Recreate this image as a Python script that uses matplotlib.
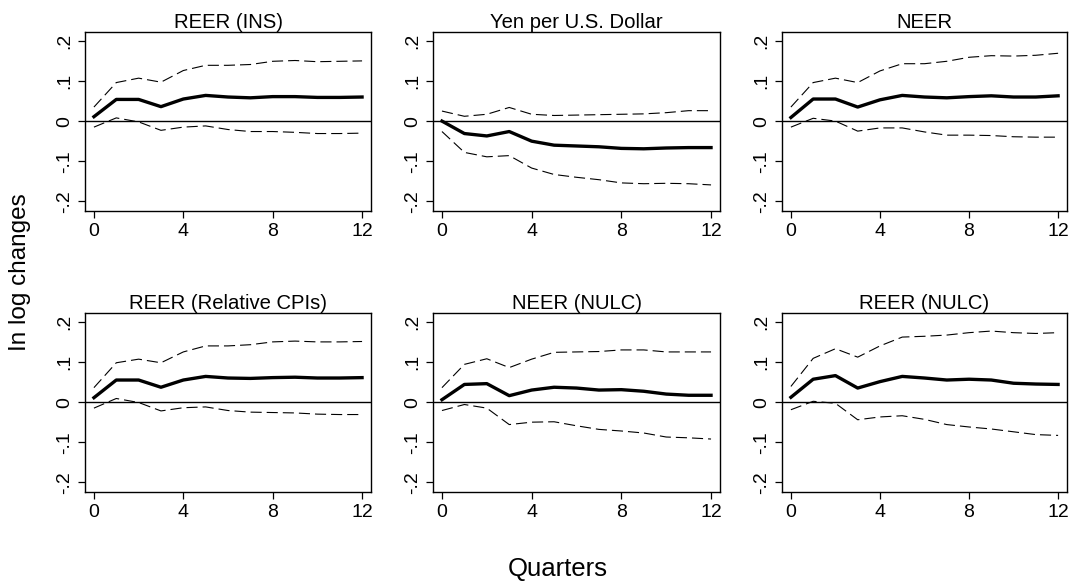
import matplotlib
matplotlib.use("Agg")
import matplotlib.pyplot as plt
import numpy as np

plt.rcParams['font.family'] = ['Liberation Sans', 'DejaVu Sans']

quarters = list(range(13))

titles = ["REER (INS)", "Yen per U.S. Dollar", "NEER",
          "REER (Relative CPIs)", "NEER (NULC)", "REER (NULC)"]

# Impulse responses (point estimate) and confidence bands, by panel
reer_ins = [0.011, 0.054, 0.054, 0.036, 0.055, 0.064, 0.060, 0.058, 0.061, 0.061, 0.059, 0.059, 0.060]
reer_ins_hi = [0.035, 0.096, 0.107, 0.097, 0.126, 0.139, 0.139, 0.141, 0.149, 0.151, 0.148, 0.149, 0.150]
reer_ins_lo = [-0.015, 0.008, -0.002, -0.023, -0.015, -0.012, -0.021, -0.026, -0.026, -0.028, -0.031, -0.031, -0.030]

yen = [0.0, -0.031, -0.037, -0.026, -0.050, -0.060, -0.062, -0.064, -0.068, -0.069, -0.067, -0.066, -0.066]
yen_hi = [0.025, 0.012, 0.017, 0.034, 0.017, 0.014, 0.015, 0.016, 0.017, 0.018, 0.021, 0.026, 0.026]
yen_lo = [-0.026, -0.078, -0.089, -0.086, -0.117, -0.133, -0.140, -0.146, -0.154, -0.156, -0.155, -0.156, -0.159]

neer = [0.009, 0.055, 0.055, 0.035, 0.053, 0.064, 0.060, 0.058, 0.061, 0.063, 0.060, 0.060, 0.063]
neer_hi = [0.035, 0.096, 0.107, 0.096, 0.125, 0.143, 0.143, 0.149, 0.159, 0.163, 0.162, 0.164, 0.169]
neer_lo = [-0.015, 0.007, 0.0, -0.025, -0.017, -0.017, -0.027, -0.035, -0.035, -0.036, -0.039, -0.040, -0.040]

reer_cpi = [0.011, 0.055, 0.055, 0.037, 0.055, 0.064, 0.060, 0.059, 0.061, 0.062, 0.060, 0.060, 0.061]
reer_cpi_hi = [0.036, 0.098, 0.107, 0.098, 0.125, 0.140, 0.140, 0.143, 0.150, 0.152, 0.150, 0.150, 0.151]
reer_cpi_lo = [-0.015, 0.009, -0.001, -0.022, -0.014, -0.012, -0.021, -0.025, -0.026, -0.027, -0.030, -0.031, -0.031]

neer_nulc = [0.006, 0.044, 0.046, 0.016, 0.030, 0.037, 0.035, 0.030, 0.031, 0.027, 0.020, 0.017, 0.017]
neer_nulc_hi = [0.036, 0.094, 0.108, 0.086, 0.107, 0.124, 0.125, 0.126, 0.130, 0.130, 0.125, 0.125, 0.125]
neer_nulc_lo = [-0.021, -0.006, -0.015, -0.056, -0.050, -0.049, -0.059, -0.068, -0.072, -0.077, -0.087, -0.089, -0.092]

reer_nulc = [0.012, 0.057, 0.066, 0.035, 0.051, 0.064, 0.060, 0.055, 0.057, 0.055, 0.047, 0.045, 0.044]
reer_nulc_hi = [0.039, 0.109, 0.133, 0.112, 0.140, 0.162, 0.164, 0.167, 0.173, 0.177, 0.173, 0.171, 0.173]
reer_nulc_lo = [-0.019, 0.002, -0.003, -0.044, -0.037, -0.034, -0.043, -0.056, -0.062, -0.067, -0.074, -0.081, -0.083]

series = [
    (reer_ins, reer_ins_lo, reer_ins_hi),
    (yen, yen_lo, yen_hi),
    (neer, neer_lo, neer_hi),
    (reer_cpi, reer_cpi_lo, reer_cpi_hi),
    (neer_nulc, neer_nulc_lo, neer_nulc_hi),
    (reer_nulc, reer_nulc_lo, reer_nulc_hi),
]

W, H = 1069, 582
fig = plt.figure(figsize=(W / 100, H / 100), dpi=100)

col_x = [(85, 371), (433, 720), (782, 1067)]
row_y = [(32, 211), (313, 492)]

for i, (title, (mid, lo, hi)) in enumerate(zip(titles, series)):
    r, c = divmod(i, 3)
    x0, x1 = col_x[c]
    y0, y1 = row_y[r]
    ax = fig.add_axes([x0 / W, 1 - y1 / H, (x1 - x0) / W, (y1 - y0) / H])
    ax.axhline(0, color='black', lw=1.0, zorder=1)
    ax.plot(quarters, hi, color='black', lw=0.8, dashes=(10, 4.5), zorder=2)
    ax.plot(quarters, lo, color='black', lw=0.8, dashes=(10, 4.5), zorder=2)
    ax.plot(quarters, mid, color='black', lw=2.4, solid_joinstyle='round', zorder=3)
    ax.set_xlim(-0.4, 12.4)
    ax.set_ylim(-0.224, 0.222)
    ax.set_xticks([0, 4, 8, 12])
    ax.set_yticks([-0.2, -0.1, 0, 0.1, 0.2])
    ax.set_yticklabels(["-.2", "-.1", "0", ".1", ".2"], rotation=90, va='center')
    ax.tick_params(axis='both', direction='out', length=5, width=0.9,
                   labelsize=14, colors='black', pad=3.5)
    for s in ax.spines.values():
        s.set_linewidth(1.0)
        s.set_color('black')
    ax.set_title(title, fontsize=14.6, pad=2.5)

fig.text(20 / W, 1 - 272 / H, "In log changes", rotation=90, fontsize=17.5,
         ha='center', va='center')
fig.text(558 / W, 1 - 569 / H, "Quarters", fontsize=18.5,
         ha='center', va='center')

fig.savefig("out.png", dpi=100, facecolor='white')
